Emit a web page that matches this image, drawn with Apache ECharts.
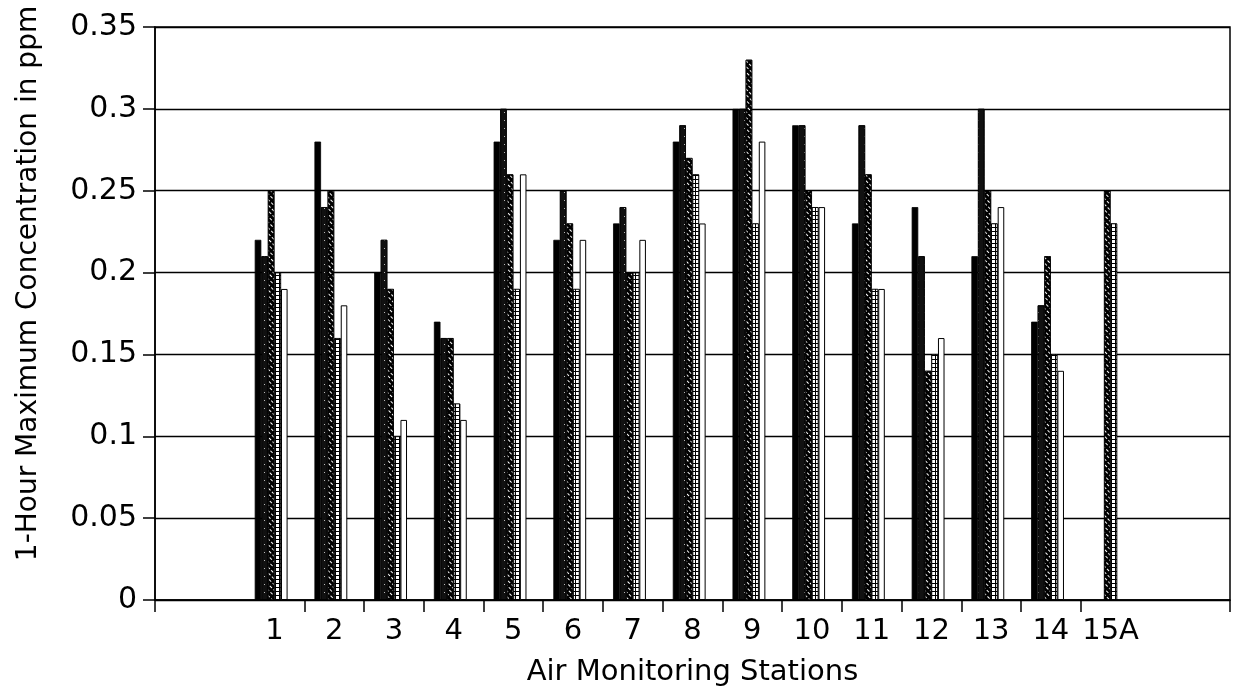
<!DOCTYPE html>
<html>
<head>
<meta charset="utf-8">
<script src="https://cdn.jsdelivr.net/npm/echarts@6/dist/echarts.min.js"></script>
<style>
  html, body { margin: 0; padding: 0; background: #fff; }
  #chart { width: 1235px; height: 696px; }
</style>
</head>
<body>
<div id="chart"></div>
<script>
// stations along the x axis
var stations = ["1", "2", "3", "4", "5", "6", "7", "8", "9", "10", "11", "12", "13", "14", "15A"];

// 1-hour maximum concentration (ppm), one array per bar pattern
var seriesSolid   = [0.22, 0.28, 0.20, 0.17, 0.28, 0.22, 0.23, 0.28, 0.30, 0.29, 0.23, 0.24, 0.21, 0.17, null];
var seriesDotted  = [0.21, 0.24, 0.22, 0.16, 0.30, 0.25, 0.24, 0.29, 0.30, 0.29, 0.29, 0.21, 0.30, 0.18, null];
var seriesHatched = [0.25, 0.25, 0.19, 0.16, 0.26, 0.23, 0.20, 0.27, 0.33, 0.25, 0.26, 0.14, 0.25, 0.21, 0.25];
var seriesGrid    = [0.20, 0.16, 0.10, 0.12, 0.19, 0.19, 0.20, 0.26, 0.23, 0.24, 0.19, 0.15, 0.23, 0.15, 0.23];
var seriesWhite   = [0.19, 0.18, 0.11, 0.11, 0.26, 0.22, 0.22, 0.23, 0.28, 0.24, 0.19, 0.16, 0.24, 0.14, null];
var seriesEmpty   = [null, null, null, null, null, null, null, null, null, null, null, null, null, null, null];

var yTicks = { min: 0, max: 0.35, step: 0.05 };

var FONT = "DejaVu Sans";

// two blank slots at each end of the axis
function pad(arr) {
  return [null, null].concat(arr, [null, null]);
}
var xLabels = ["", ""].concat(stations, ["", ""]);

// ticks sit between neighbouring stations, plus the two frame corners
// (station i is at value i on the helper axis, which runs -1 .. 17)
var tickValues = [-1, xLabels.length - 2];
for (var i = 1; i < stations.length; i++) tickValues.push(i + 0.5);

function bar(name, data, style) {
  return {
    name: name,
    type: "bar",
    data: pad(data),
    barGap: "0%",
    barCategoryGap: "34%",
    itemStyle: style,
    emphasis: { disabled: true }
  };
}

var chart = echarts.init(document.getElementById("chart"));
var option = {
  backgroundColor: "#fff",
  animation: false,
  grid: {
    left: 155, right: 5, top: 27, bottom: 96,
    show: true, borderColor: "#000", borderWidth: 1.5
  },
  xAxis: [
    {
      type: "category",
      data: xLabels,
      boundaryGap: false,
      name: "Air Monitoring Stations",
      nameLocation: "middle",
      nameGap: 58,
      nameTextStyle: { fontFamily: FONT, fontSize: 29, color: "#000" },
      axisLine: { onZero: false, lineStyle: { color: "#000", width: 1.5 } },
      axisTick: { show: false },
      axisLabel: { interval: 0, fontFamily: FONT, fontSize: 29, color: "#000", margin: 17 },
      splitLine: { show: false }
    },
    {
      type: "value",
      min: -1,
      max: xLabels.length - 2,
      position: "bottom",
      axisLine: { show: false, onZero: false },
      axisTick: { show: true, length: 12, customValues: tickValues, lineStyle: { color: "#000", width: 1.5 } },
      axisLabel: { show: false },
      splitLine: { show: false }
    }
  ],
  yAxis: {
    type: "value",
    min: yTicks.min,
    max: yTicks.max,
    interval: yTicks.step,
    name: "1-Hour Maximum Concentration in ppm",
    nameLocation: "middle",
    nameGap: 112,
    nameTextStyle: { fontFamily: FONT, fontSize: 28, color: "#000", padding: [0, 0, 0, 60] },
    axisLine: { show: true, onZero: false, lineStyle: { color: "#000", width: 1.5 } },
    axisTick: { show: true, length: 12, lineStyle: { color: "#000", width: 1.5 } },
    axisLabel: { fontFamily: FONT, fontSize: 30, color: "#000", margin: 18 },
    splitLine: { lineStyle: { color: "#000", width: 1.4 } }
  },
  series: [
    bar("A", seriesSolid, { color: "#000", borderColor: "#000", borderWidth: 0.8 }),
    bar("B", seriesDotted, {
      color: "#111", borderColor: "#000", borderWidth: 0.8,
      decal: { symbol: "rect", symbolSize: 1, color: "rgba(255,255,255,0.7)", dashArrayX: [1, 5], dashArrayY: [1, 7] }
    }),
    bar("C", seriesHatched, {
      color: "#000", borderColor: "#000", borderWidth: 0.8,
      decal: { symbol: "rect", symbolSize: 1, color: "#fff", dashArrayX: [1, 3], dashArrayY: [3, 2], rotation: -Math.PI / 4 }
    }),
    bar("D", seriesGrid, {
      color: "#000", borderColor: "#000", borderWidth: 0.8,
      decal: { symbol: "rect", symbolSize: 1, color: "#fff", dashArrayX: [3, 1], dashArrayY: [3, 1] }
    }),
    bar("E", seriesWhite, { color: "#fff", borderColor: "#000", borderWidth: 1 }),
    bar("F", seriesEmpty, { color: "#fff", borderColor: "#000", borderWidth: 1 })
  ]
};
chart.setOption(option);
</script>
</body>
</html>
